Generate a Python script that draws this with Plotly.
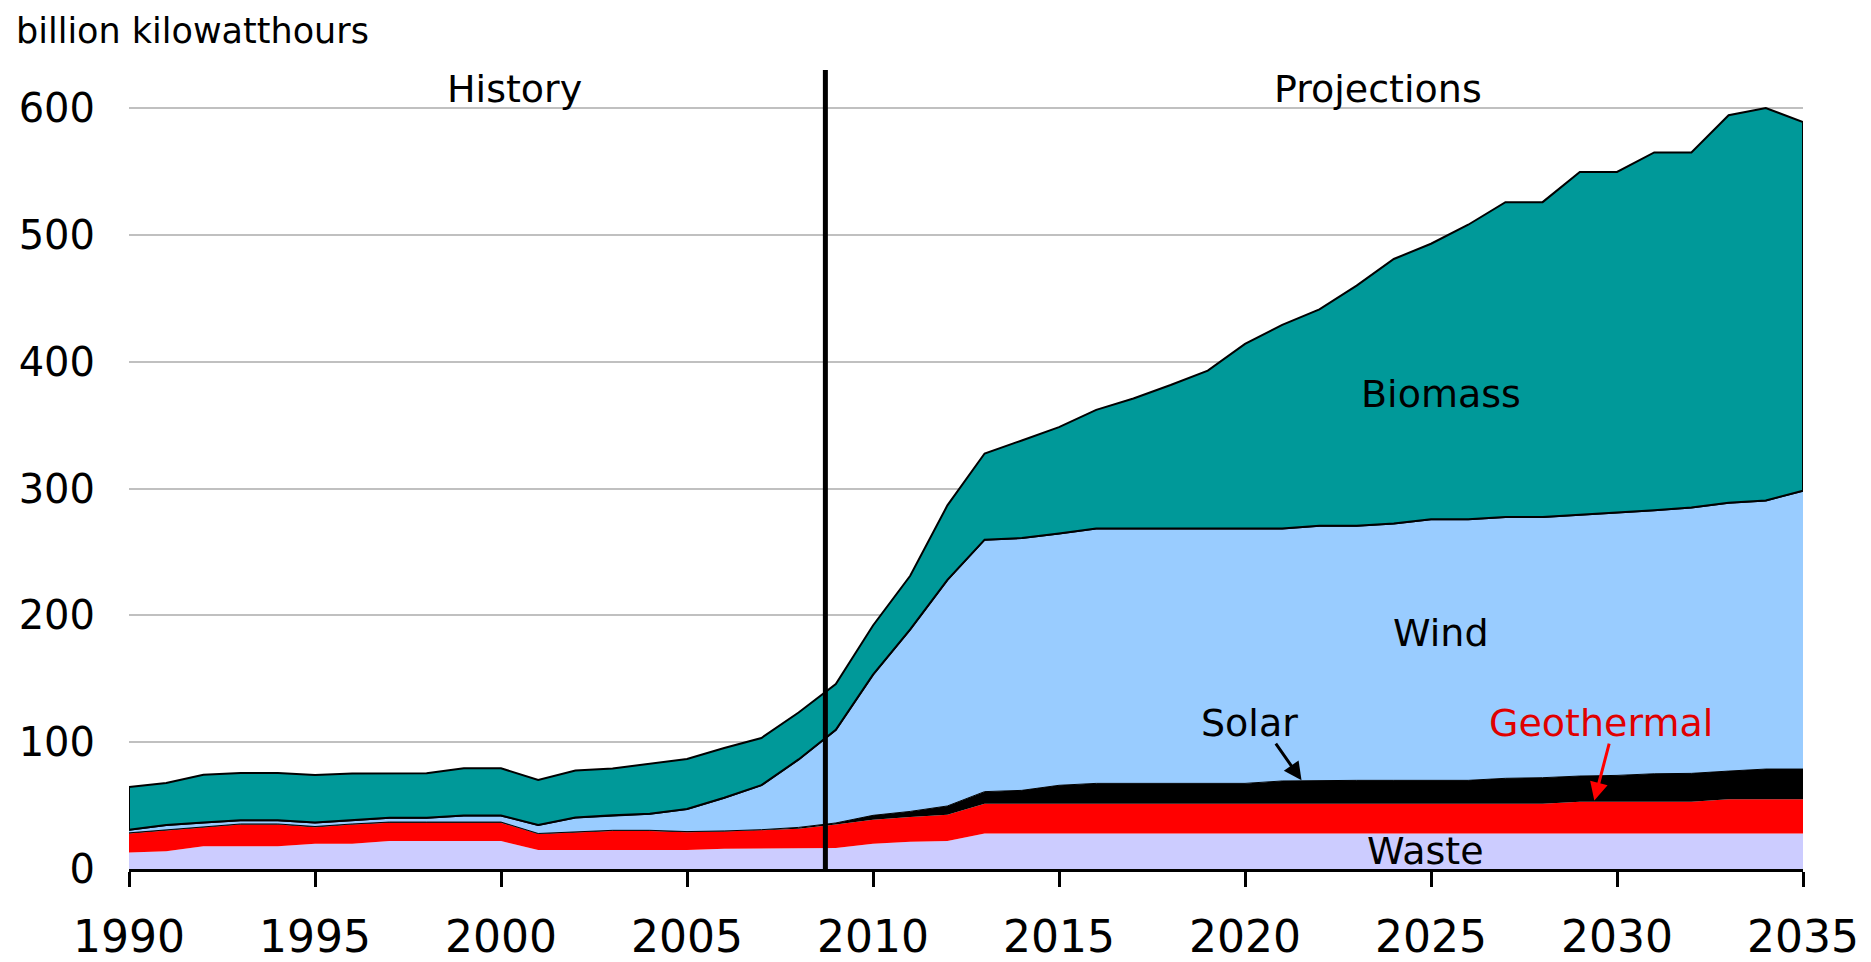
import numpy as np
import plotly.graph_objects as go

years = list(range(1990, 2036))

waste = [13, 14, 18, 18, 18, 20, 20, 22, 22, 22, 22, 15, 15, 15, 15, 15, 16, 16, 16.5, 16.5,
         20, 21.5, 22] + [28] * 23
geothermal = [15, 16.5, 15, 17, 17, 13, 15, 14.5, 14.5, 14.5, 14.5, 12.5, 14, 15, 15, 14, 13.5, 14.5, 15.2, 18.5,
              18.8, 19.5, 20.8] + [23.5] * 16 + [25] * 4 + [27] * 3
solar = [0.5] * 18 + [1.1, 1.3,
         3.5, 4.4, 6.9, 9.5, 10.5, 14.5, 16, 16, 16, 16, 16, 17.9, 18.4, 18.4, 18.4, 18.4, 18.4,
         20, 20.5, 20.3, 20.8, 22.1, 22.4, 22.2, 23.8, 23.8]
wind = [2.4, 3.7, 3.2, 2.9, 2.9, 3.2, 2.9, 3.4, 3.4, 5.2, 5.2, 6.8, 11.1, 11.8, 13.1, 17.8, 26.2, 35.1, 53.6, 73.4,
        110.9, 143.5, 178.3, 198.7, 199, 198.6, 201, 201, 201, 201, 201, 199.1, 200.7, 200.7, 202.5, 205.8, 205.8,
        206, 205.5, 206.3, 207.3, 207.8, 209.6, 211.5, 211.7, 219.5]
biomass = [33.8, 33.2, 37.6, 37.2, 37.2, 37.4, 36.9, 35.1, 35.1, 37.2, 37.2, 35.4, 37.1, 36.9, 39.3, 39.5, 39.2, 37.2, 37, 36.2,
           38.8, 42.3, 58.7, 67.9, 76.9, 83.8, 93.5, 102.5, 113.1, 124.5, 145.5, 160.5, 170.7, 189.4, 208.6, 217.3,
           232.3, 248.3, 248.3, 270, 268.5, 282.1, 280, 305.6, 309.5, 290.7]

y_ticks = [0, 100, 200, 300, 400, 500, 600]
x_ticks = [1990, 1995, 2000, 2005, 2010, 2015, 2020, 2025, 2030, 2035]

FONT = "DejaVu Sans"

c_waste = np.array(waste, dtype=float)
c_geo = c_waste + np.array(geothermal)
c_solar = c_geo + np.array(solar)
c_wind = c_solar + np.array(wind)
c_total = c_wind + np.array(biomass)

fig = go.Figure()
fig.add_trace(go.Scatter(x=years, y=c_waste, mode="lines", fill="tozeroy",
                         fillcolor="#CCCCFF", line=dict(width=0, color="#CCCCFF"), name="Waste"))
fig.add_trace(go.Scatter(x=years, y=c_geo, mode="lines", fill="tonexty",
                         fillcolor="#FF0000", line=dict(width=0, color="#FF0000"), name="Geothermal"))
fig.add_trace(go.Scatter(x=years, y=c_solar, mode="lines", fill="tonexty",
                         fillcolor="#000000", line=dict(width=1, color="#000000"), name="Solar"))
fig.add_trace(go.Scatter(x=years, y=c_wind, mode="lines", fill="tonexty",
                         fillcolor="#99CCFF", line=dict(width=2, color="#000000"), name="Wind"))
# biomass band as closed polygon (outlined)
px = years + years[::-1] + [years[0]]
py = list(c_total) + list(c_wind[::-1]) + [c_total[0]]
fig.add_trace(go.Scatter(x=px, y=py, mode="lines", fill="toself",
                         fillcolor="#009999", line=dict(width=2, color="#000000"), name="Biomass"))

# history / projections divider
fig.add_shape(type="line", xref="x", yref="paper", x0=2008.72, x1=2008.72, y0=0, y1=1,
              line=dict(color="black", width=5))

ann = dict(showarrow=False, font=dict(family=FONT, size=38, color="black"))
fig.add_annotation(x=2000.35, y=615, text="History", **ann)
fig.add_annotation(x=2023.58, y=615, text="Projections", **ann)
fig.add_annotation(x=2025.27, y=374.5, text="Biomass", **ann)
fig.add_annotation(x=2025.27, y=186.4, text="Wind", **ann)
fig.add_annotation(x=2020.13, y=115, text="Solar", **ann)
fig.add_annotation(x=2024.85, y=14, text="Waste", **ann)
fig.add_annotation(x=2029.58, y=115, text="Geothermal", showarrow=False,
                   font=dict(family=FONT, size=38, color="#E00000"))

fig.add_annotation(x=2021.52, y=69.9, ax=2020.8, ay=100, xref="x", yref="y", axref="x", ayref="y",
                   text="", showarrow=True, arrowhead=2, arrowsize=1.2, arrowwidth=3, arrowcolor="black")
fig.add_annotation(x=2029.39, y=54, ax=2029.8, ay=100, xref="x", yref="y", axref="x", ayref="y",
                   text="", showarrow=True, arrowhead=2, arrowsize=1.2, arrowwidth=3, arrowcolor="#FF0000")

fig.add_annotation(xref="paper", yref="paper", x=-0.0687, y=1.049, xanchor="left", yanchor="middle",
                   text="billion kilowatthours", showarrow=False,
                   font=dict(family=FONT, size=35, color="black"))

fig.update_layout(
    width=1855, height=962,
    margin=dict(l=121, r=60, t=62, b=101),
    paper_bgcolor="white", plot_bgcolor="white",
    showlegend=False,
    font=dict(family=FONT, color="black"),
)
fig.update_xaxes(range=[1990, 2035], tickvals=x_ticks, ticks="outside", ticklen=15, tickwidth=2.5,
                 tickcolor="black", showline=True, linecolor="black", linewidth=3, showgrid=False,
                 zeroline=False, tickfont=dict(family=FONT, size=44, color="black"), ticklabelstandoff=12,
                 automargin=False)
fig.update_yaxes(range=[0, 630], tickvals=y_ticks, ticks="", showline=False, showgrid=True,
                 gridcolor="#C0C0C0", gridwidth=2, zeroline=False,
                 tickfont=dict(family=FONT, size=40, color="black"), ticklabelstandoff=33,
                 automargin=False)

fig.write_html("out.html")
